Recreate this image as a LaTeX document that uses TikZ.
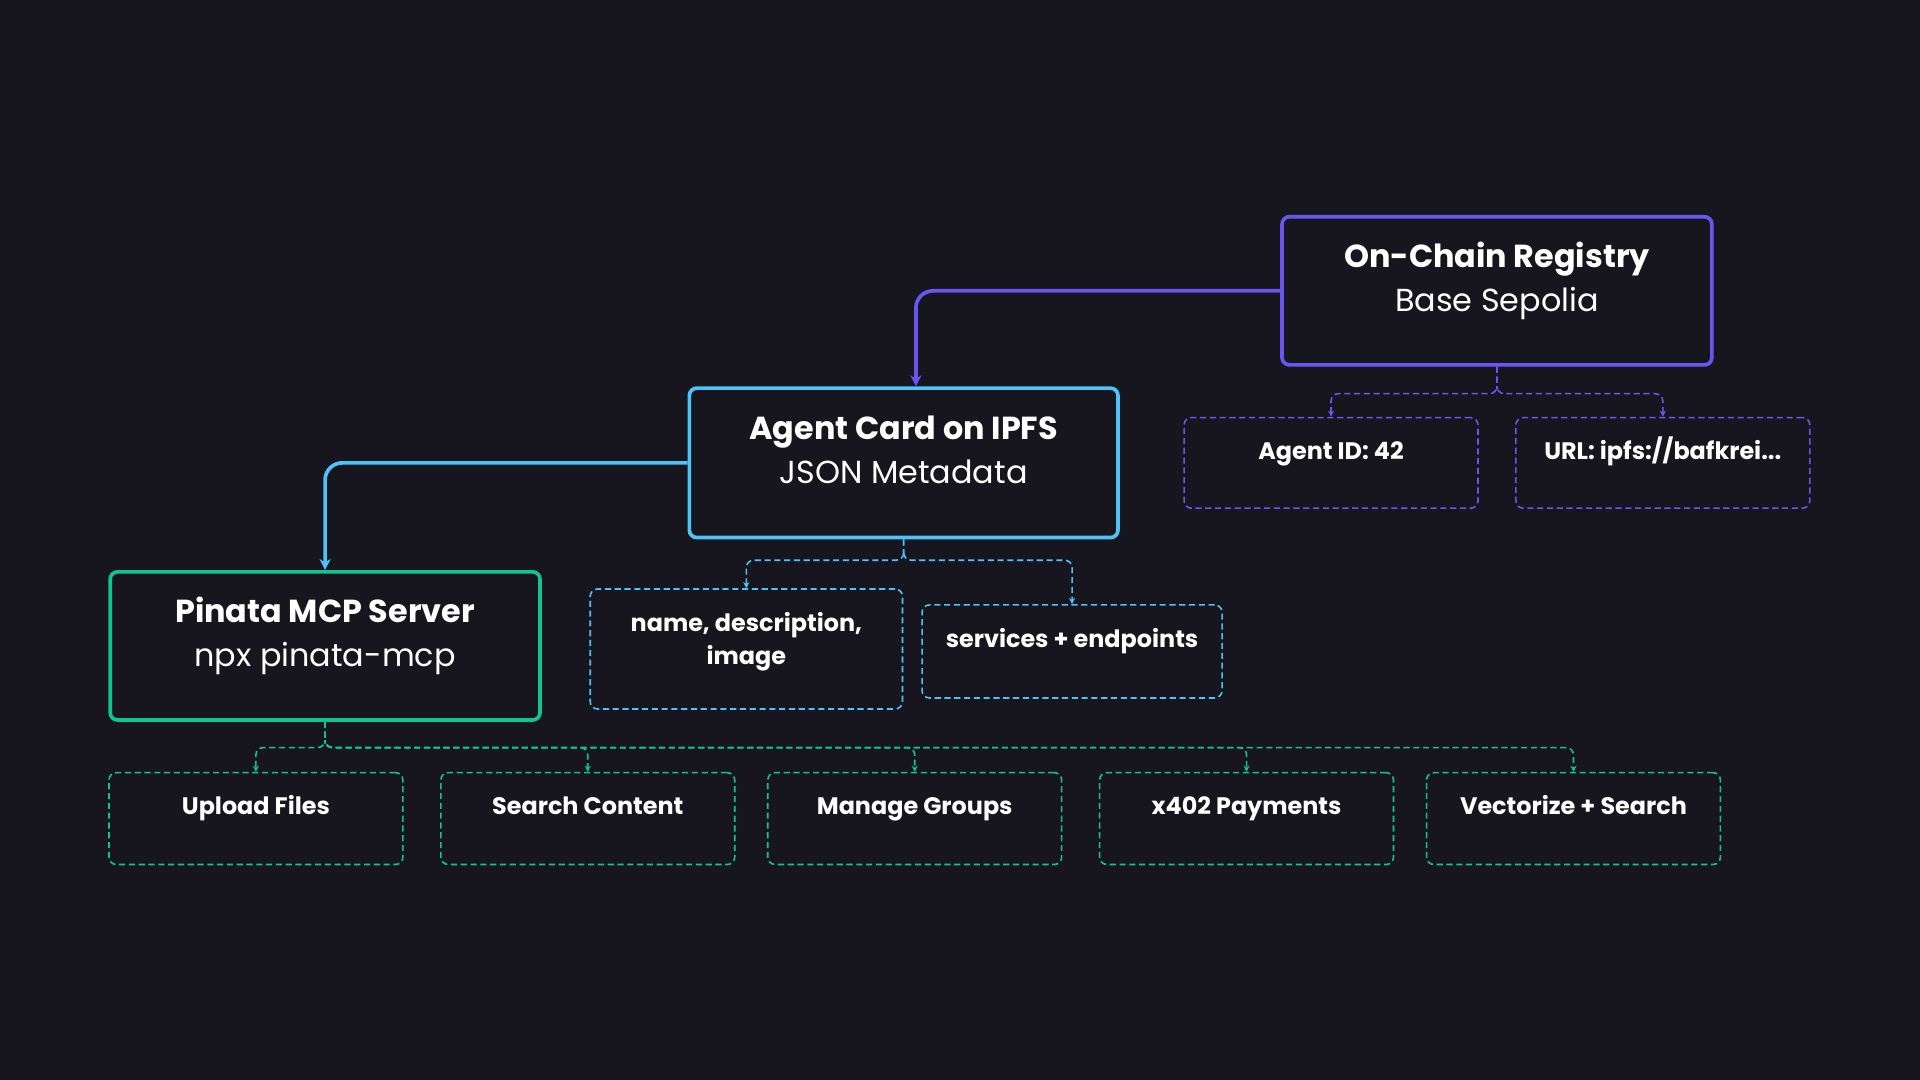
\documentclass[tikz,border=0pt]{standalone}
\usepackage{fontspec}
\setmainfont{Poppins}
\usetikzlibrary{arrows.meta}
\definecolor{bg}{HTML}{17161F}
\definecolor{cpur}{HTML}{6B55F0}
\definecolor{cblu}{HTML}{4FC3F7}
\definecolor{cgrn}{HTML}{12C48E}
\begin{document}
\begin{tikzpicture}[x=1pt,y=-1pt,
  mainbox/.style={draw=#1,line width=3pt,rounded corners=6pt,inner sep=0pt},
  subbox/.style={draw=#1,dash pattern=on 5pt off 3pt,line width=1.3pt,rounded corners=6pt,inner sep=0pt},
  ttl/.style={text=white,anchor=base,inner sep=0pt,font=\fontsize{26}{34}\selectfont\bfseries},
  sub/.style={text=white,anchor=base,inner sep=0pt,font=\fontsize{26}{34}\selectfont},
  lbl/.style={text=white,anchor=base,inner sep=0pt,font=\fontsize{19.5}{24}\selectfont\bfseries},
  link/.style={draw=#1,line width=3pt,rounded corners=14pt,-{Stealth[length=9pt,width=9pt]}},
  dlink/.style={draw=#1,dash pattern=on 5pt off 3pt,line width=1.3pt,rounded corners=6pt,-{Stealth[length=5pt,width=5pt]}}]
\fill[bg] (0,0) rectangle (1568,882);
\node[mainbox=cpur,minimum width=351,minimum height=121] (reg) at (1222.5,237.5) {};
\node[ttl] (regt) at (1222.5,218.5) {On-Chain Registry};
\node[sub] (regs) at (1222.5,254) {Base Sepolia};
\node[mainbox=cblu,minimum width=350,minimum height=122] (card) at (738,378) {};
\node[ttl] (cardt) at (738,359) {Agent Card on IPFS};
\node[sub] (cards) at (738,394.5) {JSON Metadata};
\node[mainbox=cgrn,minimum width=351,minimum height=121] (pin) at (265.5,527.5) {};
\node[ttl] (pint) at (265.5,508.5) {Pinata MCP Server};
\node[sub] (pins) at (265.5,544) {npx pinata-mcp};
\node[subbox=cpur,minimum width=240,minimum height=74] (aid) at (1087,378) {};
\node[lbl] (aidt) at (1087,375) {Agent ID: 42};
\node[subbox=cpur,minimum width=240,minimum height=74] (url) at (1358,378) {};
\node[lbl] (urlt) at (1358,375) {URL: ipfs://bafkrei...};
\node[subbox=cblu,minimum width=255,minimum height=98] (nd) at (609.5,530) {};
\node[lbl] (ndt) at (609.5,516) {name, description,};
\node[lbl] (ndt2) at (609.5,543) {image};
\node[subbox=cblu,minimum width=245,minimum height=76] (se) at (875.5,532) {};
\node[lbl] (set) at (875.5,529) {services + endpoints};
\foreach \n/\x/\t in {b1/209/Upload Files,b2/480/Search Content,b3/747/Manage Groups,b4/1018/x402 Payments,b5/1285/Vectorize + Search}{
  \node[subbox=cgrn,minimum width=240,minimum height=75] (\n) at (\x,668.5) {};
  \node[lbl] (\n t) at (\x,665) {\t};
}
\draw[link=cpur] (reg.west) -| ([xshift=10pt]card.north);
\draw[link=cblu] (card.west) -| (pin.north);
\foreach \t in {aid,url}{\draw[dlink=cpur] (reg.south) |- ++(0,22) -| (\t.north);}
\draw[dlink=cblu] (card.south) |- ++(0,17) -| (nd.north);
\draw[dlink=cblu] (card.south) |- ++(0,17) -| (se.north);
\foreach \t in {b1,b2,b3,b4,b5}{\draw[dlink=cgrn] (pin.south) |- ++(0,21) -| (\t.north);}
\end{tikzpicture}
\end{document}
